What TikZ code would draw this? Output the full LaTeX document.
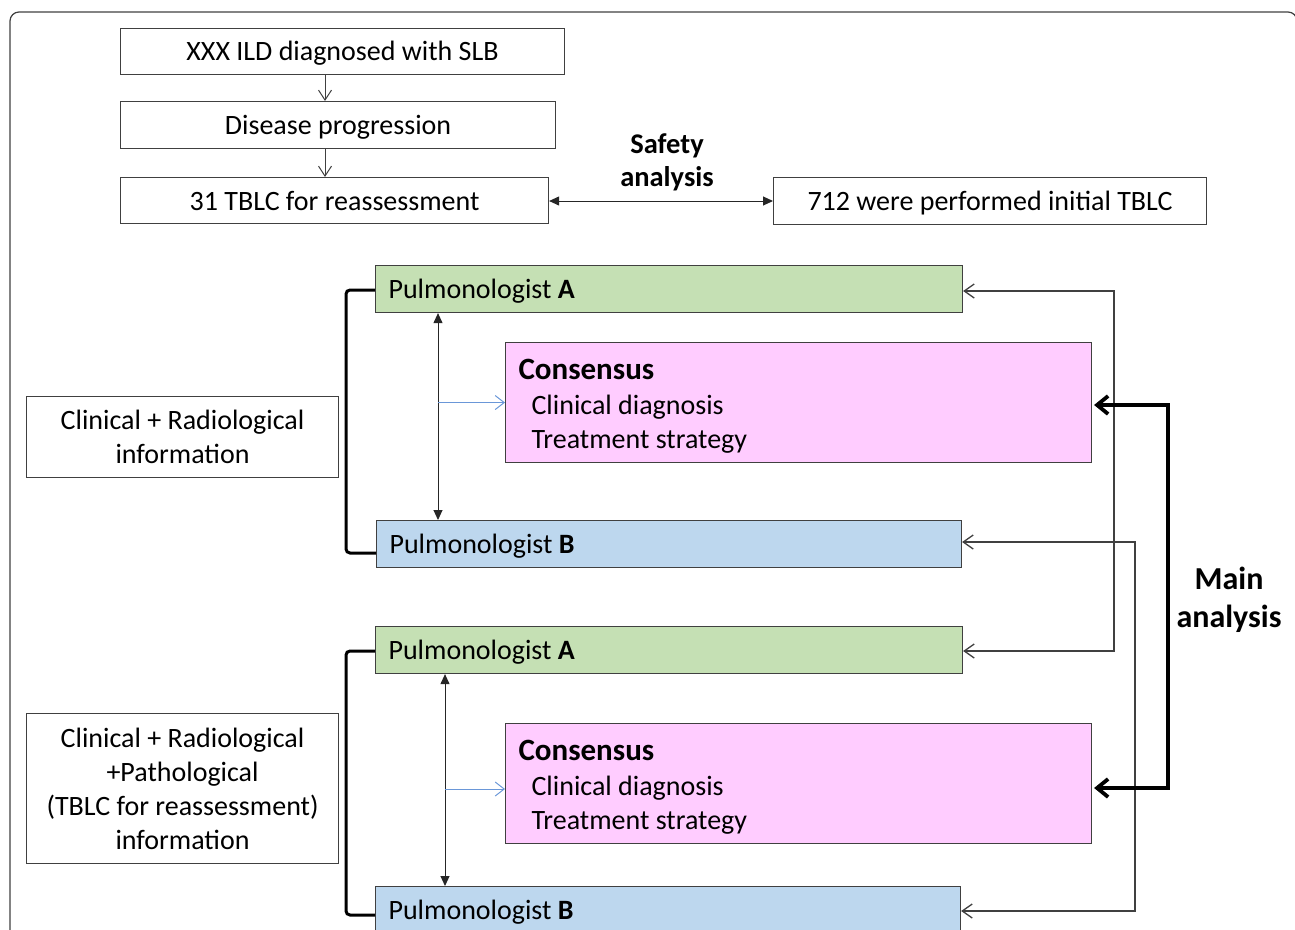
\documentclass[tikz,border=0pt]{standalone}
\usepackage{fontspec}
\setmainfont{Carlito}
\usetikzlibrary{arrows.meta}
\definecolor{pgreen}{HTML}{C5E0B4}
\definecolor{pblue}{HTML}{BDD7EE}
\definecolor{ppink}{HTML}{FFCCFF}
\definecolor{lineC}{HTML}{404040}
\definecolor{arrblue}{HTML}{6A97D8}
\begin{document}
\begin{tikzpicture}[x=1pt,y=-1pt,
  every node/.style={font=\fontsize{28}{34}\selectfont},
  box/.style={draw=lineC, line width=1.1pt, inner sep=0pt, align=center, anchor=north west},
  lowtext/.style={text height=24pt, text depth=6pt},
  pulm/.style={box, align=flush left, inner xsep=13pt, minimum height=47pt, text height=26pt, text depth=7pt},
  cons/.style={box, align=flush left, inner xsep=13pt, minimum height=120pt, fill=ppink, text height=29pt, text depth=76pt},
  thinarr/.style={draw=lineC, line width=1pt, -{Straight Barb[length=10pt,width=13pt]}},
  dblarr/.style={draw=black!85, line width=1pt, {Triangle[length=10pt,width=9pt]}-{Triangle[length=10pt,width=9pt]}},
  sidearr/.style={draw=lineC, line width=1.3pt, {Straight Barb[length=10pt,width=14pt]}-{Straight Barb[length=10pt,width=14pt]}},
  thickarr/.style={draw=black, line width=3.8pt, {Straight Barb[length=11pt,width=18pt,line width=3.8pt]}-{Straight Barb[length=11pt,width=18pt,line width=3.8pt]}},
  bluearr/.style={draw=arrblue, line width=1pt, -{Straight Barb[length=9pt,width=14pt]}},
  bracket/.style={draw=black, line width=3pt, rounded corners=4pt},
  lbl/.style={font=\fontsize{28.5}{33}\selectfont\bfseries, align=center},
  lblbig/.style={font=\fontsize{32}{38}\selectfont\bfseries, align=center}
]
\useasboundingbox (0,0) rectangle (1295,929);
\clip (0,0) rectangle (1295,929);
\draw[draw=lineC, line width=1.2pt, rounded corners=9pt] (10,12) rectangle (1297,980);

% top flow
\node[box, lowtext, minimum width=444pt, minimum height=46pt] (b1) at (120,28) {XXX ILD diagnosed with SLB};
\node[box, lowtext, minimum width=435pt, minimum height=47pt] (b2) at (120,101) {Disease progression};
\node[box, minimum width=428pt, minimum height=46pt] (b3) at (120,177) {31 TBLC for reassessment};
\node[box, lowtext, minimum width=433pt, minimum height=47pt] (b4) at (773,177) {712 were performed initial TBLC};
\node[lbl] (safety) at (667,162) {Safety\\analysis};
\coordinate (ax) at (325,0);
\coordinate (ya) at (0,201);
\draw[thinarr] (b1.south -| ax) -- (b2.north -| ax);
\draw[thinarr] (b2.south -| ax) -- (b3.north -| ax);
\draw[dblarr] (b3.east |- ya) -- (b4.west |- ya);

% first group
\node[pulm, fill=pgreen, text width=561pt] (pA1) at (375,265) {Pulmonologist \textbf{A}};
\node[cons, text width=560pt] (c1) at (505,342) {{\fontsize{31}{36}\selectfont\bfseries Consensus}\\[1pt]\hspace*{13pt}Clinical diagnosis\\\hspace*{13pt}Treatment strategy};
\node[pulm, fill=pblue, text width=559pt] (pB1) at (376,520) {Pulmonologist \textbf{B}};
\node[box, minimum width=312pt, minimum height=81pt] (i1) at (26,396) {Clinical + Radiological\\information};
\coordinate (v1) at (438,0);
\coordinate (bx) at (346,0);
\coordinate (yt1) at (0,290);
\coordinate (yb1) at (0,553);
\draw[dblarr] (pA1.south -| v1) -- (pB1.north -| v1);
\draw[bluearr] (v1 |- c1.west) -- (c1.west);
\draw[bracket] (pA1.west |- yt1) -- (bx |- yt1) -- (bx |- yb1) -- (pB1.west |- yb1);

% second group
\node[pulm, fill=pgreen, text width=561pt] (pA2) at (375,626) {Pulmonologist \textbf{A}};
\node[cons, text width=560pt] (c2) at (505,723) {{\fontsize{31}{36}\selectfont\bfseries Consensus}\\[1pt]\hspace*{13pt}Clinical diagnosis\\\hspace*{13pt}Treatment strategy};
\node[pulm, fill=pblue, text width=559pt] (pB2) at (375,886) {Pulmonologist \textbf{B}};
\node[box, minimum width=312pt, minimum height=150pt] (i2) at (26,713) {Clinical + Radiological\\+Pathological\\(TBLC for reassessment)\\information};
\coordinate (v2) at (445,0);
\coordinate (yt2) at (0,651);
\coordinate (yb2) at (0,915);
\coordinate (yc2) at (0,789);
\draw[dblarr] (pA2.south -| v2) -- (pB2.north -| v2);
\draw[bluearr] (v2 |- yc2) -- (c2.west |- yc2);
\draw[bracket] (pA2.west |- yt2) -- (bx |- yt2) -- (bx |- yb2) -- (pB2.west |- yb2);

% right connectors
\coordinate (r1) at (1114,0);
\coordinate (r2) at (1135,0);
\coordinate (r3) at (1168,0);
\coordinate (ysA1) at (0,291);
\coordinate (ysA2) at (0,651);
\coordinate (ysB1) at (0,542);
\coordinate (ysB2) at (0,911);
\coordinate (ysC1) at (0,405);
\coordinate (ysC2) at (0,788);
\draw[sidearr] (pA1.east |- ysA1) -- (r1 |- ysA1) -- (r1 |- ysA2) -- (pA2.east |- ysA2);
\draw[sidearr] (pB1.east |- ysB1) -- (r2 |- ysB1) -- (r2 |- ysB2) -- (pB2.east |- ysB2);
\draw[thickarr] ([xshift=2pt]c1.east |- ysC1) -- (r3 |- ysC1) -- (r3 |- ysC2) -- ([xshift=2pt]c2.east |- ysC2);
\node[lblbig] (main) at (1229,600) {Main\\analysis};
\end{tikzpicture}
\end{document}
